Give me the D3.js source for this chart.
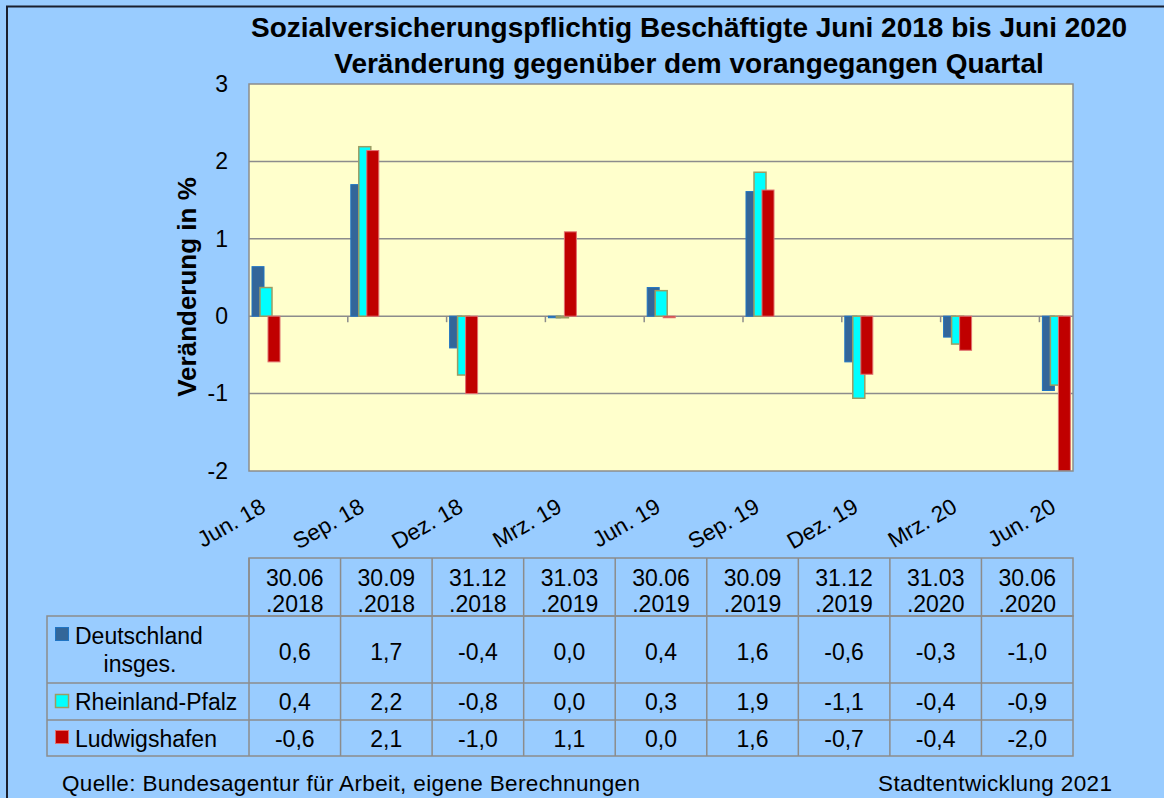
<!DOCTYPE html>
<html>
<head>
<meta charset="utf-8">
<script src="https://cdn.jsdelivr.net/npm/d3@7"></script>
<style>
  html, body { margin: 0; padding: 0; background: #99CCFF; }
  svg { display: block; font-family: "Liberation Sans", Arial, sans-serif; }
</style>
</head>
<body>
<svg id="chart" width="1164" height="798"></svg>
<script>
// ---- data ----
const categories = ["Jun. 18", "Sep. 18", "Dez. 18", "Mrz. 19", "Jun. 19", "Sep. 19", "Dez. 19", "Mrz. 20", "Jun. 20"];
const dateLine1 = ["30.06", "30.09", "31.12", "31.03", "30.06", "30.09", "31.12", "31.03", "30.06"];
const dateLine2 = [".2018", ".2018", ".2018", ".2019", ".2019", ".2019", ".2019", ".2020", ".2020"];
const seriesNames = ["Deutschland insges.", "Rheinland-Pfalz", "Ludwigshafen"];
const deutschland = [0.64, 1.70, -0.41, -0.02, 0.37, 1.61, -0.59, -0.27, -0.96];
const rheinlandPfalz = [0.37, 2.19, -0.76, -0.02, 0.33, 1.86, -1.06, -0.36, -0.89];
const ludwigshafen = [-0.59, 2.14, -1.00, 1.09, -0.02, 1.63, -0.75, -0.44, -2.00];
const yTicks = [-2, -1, 0, 1, 2, 3];
const titleLines = ["Sozialversicherungspflichtig Beschäftigte Juni 2018 bis Juni 2020", "Veränderung gegenüber dem vorangegangen Quartal"];
const yTitle = "Veränderung in %";
const sourceText = "Quelle:  Bundesagentur  für  Arbeit,  eigene  Berechnungen";
const creditText = "Stadtentwicklung  2021";

const series = [
  { name: seriesNames[0], values: deutschland, fill: "#336699", stroke: "#1F74C4", sw: 1 },
  { name: seriesNames[1], values: rheinlandPfalz, fill: "#00FFFF", stroke: "#9C9C63", sw: 1.5 },
  { name: seriesNames[2], values: ludwigshafen, fill: "#C00000", stroke: "#E07070", sw: 1 }
];

const svg = d3.select("#chart");
const font = '"Liberation Sans", Arial, sans-serif';

// frame
svg.append("rect").attr("x", 0).attr("y", 0).attr("width", 1164).attr("height", 798).attr("fill", "#99CCFF");
svg.append("path").attr("d", "M7,798 V6.5 H1164").attr("fill", "none").attr("stroke", "#1a1f2e").attr("stroke-width", 2);

// plot geometry
const plot = { left: 249, right: 1073, top: 84, bottom: 471 };
const bandStep = 98.8;

const x = d3.scaleBand().domain(categories).range([plot.left, plot.left + bandStep * categories.length]).paddingInner(0).paddingOuter(0);
const y = d3.scaleLinear().domain([-2, 3]).range([plot.bottom, plot.top]);
const barW = 12;
const xSub = d3.scaleLinear().domain([0, 2]).range([3, 19]);

// plot background
svg.append("rect").attr("x", plot.left).attr("y", plot.top)
  .attr("width", plot.right - plot.left).attr("height", plot.bottom - plot.top)
  .attr("fill", "#FFFFCC");

// gridlines
svg.append("g").selectAll("line").data(yTicks.filter(d => d > -2 && d < 3)).join("line")
  .attr("x1", plot.left).attr("x2", plot.right)
  .attr("y1", d => y(d)).attr("y2", d => y(d))
  .attr("stroke", "#8C8C8C").attr("stroke-width", 1.5);

// category ticks on zero line
svg.append("g").selectAll("line").data(categories.slice(1)).join("line")
  .attr("x1", d => x(d)).attr("x2", d => x(d))
  .attr("y1", y(0)).attr("y2", y(0) + 6)
  .attr("stroke", "#8C8C8C").attr("stroke-width", 1.5);

// bars
svg.append("clipPath").attr("id", "plotclip").append("rect")
  .attr("x", plot.left).attr("y", plot.top).attr("width", plot.right - plot.left).attr("height", plot.bottom - plot.top);
const barsG = svg.append("g").attr("clip-path", "url(#plotclip)");
series.forEach((s, si) => {
  barsG.append("g").selectAll("rect").data(s.values).join("rect")
    .attr("x", (d, i) => x(categories[i]) + xSub(si))
    .attr("y", d => y(Math.max(0, d)))
    .attr("width", barW)
    .attr("height", d => Math.abs(y(d) - y(0)))
    .attr("fill", s.fill)
    .attr("stroke", s.stroke)
    .attr("stroke-width", s.sw);
});

// plot border
svg.append("rect").attr("x", plot.left).attr("y", plot.top)
  .attr("width", plot.right - plot.left).attr("height", plot.bottom - plot.top)
  .attr("fill", "none").attr("stroke", "#8C8C8C").attr("stroke-width", 1.5);

// y axis
const yAxis = svg.append("g").attr("transform", `translate(${plot.left},0)`)
  .call(d3.axisLeft(y).tickValues(yTicks).tickSize(0).tickPadding(21).tickFormat(d => String(d)));
yAxis.select(".domain").remove();
yAxis.selectAll("text").attr("font-size", 23).attr("font-family", font).attr("fill", "#000");

// y title
svg.append("text")
  .attr("transform", "translate(196,287) rotate(-90)")
  .attr("text-anchor", "middle")
  .attr("font-size", 26).attr("font-weight", "bold").attr("fill", "#000")
  .text(yTitle);

// title
svg.append("g").selectAll("text").data(titleLines).join("text")
  .attr("x", 689).attr("y", (d, i) => 37 + i * 36)
  .attr("text-anchor", "middle")
  .attr("font-size", 28).attr("font-weight", "bold").attr("fill", "#000")
  .text(d => d);

// rotated category labels
svg.append("g").selectAll("text").data(categories).join("text")
  .attr("transform", d => `translate(${x(d) + 18},511) rotate(-30)`)
  .attr("text-anchor", "end")
  .attr("font-size", 22.5).attr("fill", "#000")
  .text(d => d);

// ---- data table ----
const tbl = { labelLeft: 47, headTop: 558, rowTops: [616, 683, 720], bottom: 756 };
const colX = d3.scaleBand().domain(categories).range([plot.left, plot.right]);
const tg = svg.append("g");
const lineColor = "#8C8C8C";
// header box
tg.append("rect").attr("x", plot.left).attr("y", tbl.headTop).attr("width", plot.right - plot.left).attr("height", tbl.rowTops[0] - tbl.headTop)
  .attr("fill", "none").attr("stroke", lineColor).attr("stroke-width", 1.5);
// body box
tg.append("rect").attr("x", tbl.labelLeft).attr("y", tbl.rowTops[0]).attr("width", plot.right - tbl.labelLeft).attr("height", tbl.bottom - tbl.rowTops[0])
  .attr("fill", "none").attr("stroke", lineColor).attr("stroke-width", 1.5);
// row separators
tg.selectAll("line.row").data(tbl.rowTops.slice(1)).join("line").attr("class", "row")
  .attr("x1", tbl.labelLeft).attr("x2", plot.right).attr("y1", d => d).attr("y2", d => d)
  .attr("stroke", lineColor).attr("stroke-width", 1.5);
// column separators
tg.selectAll("line.col").data(categories).join("line").attr("class", "col")
  .attr("x1", d => colX(d)).attr("x2", d => colX(d)).attr("y1", tbl.headTop).attr("y2", tbl.bottom)
  .attr("stroke", lineColor).attr("stroke-width", 1.5);

// header text
categories.forEach((c, i) => {
  const cx = colX(c) + colX.bandwidth() / 2;
  tg.append("text").attr("x", cx).attr("y", 586).attr("text-anchor", "middle").attr("font-size", 23).text(dateLine1[i]);
  tg.append("text").attr("x", cx).attr("y", 612).attr("text-anchor", "middle").attr("font-size", 23).text(dateLine2[i]);
});

// value text
const fmt = v => { const r = Math.round(v * 10) / 10; return (r === 0 ? 0 : r).toFixed(1).replace(".", ","); };
const rowBaselines = [660, 710, 747];
series.forEach((s, si) => {
  tg.append("g").selectAll("text").data(s.values).join("text")
    .attr("x", (d, i) => colX(categories[i]) + colX.bandwidth() / 2)
    .attr("y", rowBaselines[si])
    .attr("text-anchor", "middle").attr("font-size", 23)
    .text(d => fmt(d));
});

// legend keys + labels
const keyTops = [627, 694, 730];
series.forEach((s, si) => {
  tg.append("rect").attr("x", 55.5).attr("y", keyTops[si] + 0.5).attr("width", 13).attr("height", 13)
    .attr("fill", s.fill).attr("stroke", s.stroke).attr("stroke-width", si === 1 ? 1.5 : 1);
});
tg.append("text").attr("x", 75).attr("y", 644).attr("font-size", 23).text(seriesNames[0].split(" ")[0]);
tg.append("text").attr("x", 140).attr("y", 672).attr("text-anchor", "middle").attr("font-size", 23).text(seriesNames[0].split(" ")[1]);
tg.append("text").attr("x", 75).attr("y", 710).attr("font-size", 23).text(seriesNames[1]);
tg.append("text").attr("x", 75).attr("y", 747).attr("font-size", 23).text(seriesNames[2]);

// footer
svg.append("text").attr("x", 62).attr("y", 791).attr("font-size", 22.5)
  .attr("textLength", 578).attr("lengthAdjust", "spacing").text(sourceText);
svg.append("text").attr("x", 878).attr("y", 791).attr("font-size", 22.5)
  .attr("textLength", 234).attr("lengthAdjust", "spacing").text(creditText);

svg.selectAll("text").attr("font-family", font).attr("fill", "#000");
</script>
</body>
</html>
